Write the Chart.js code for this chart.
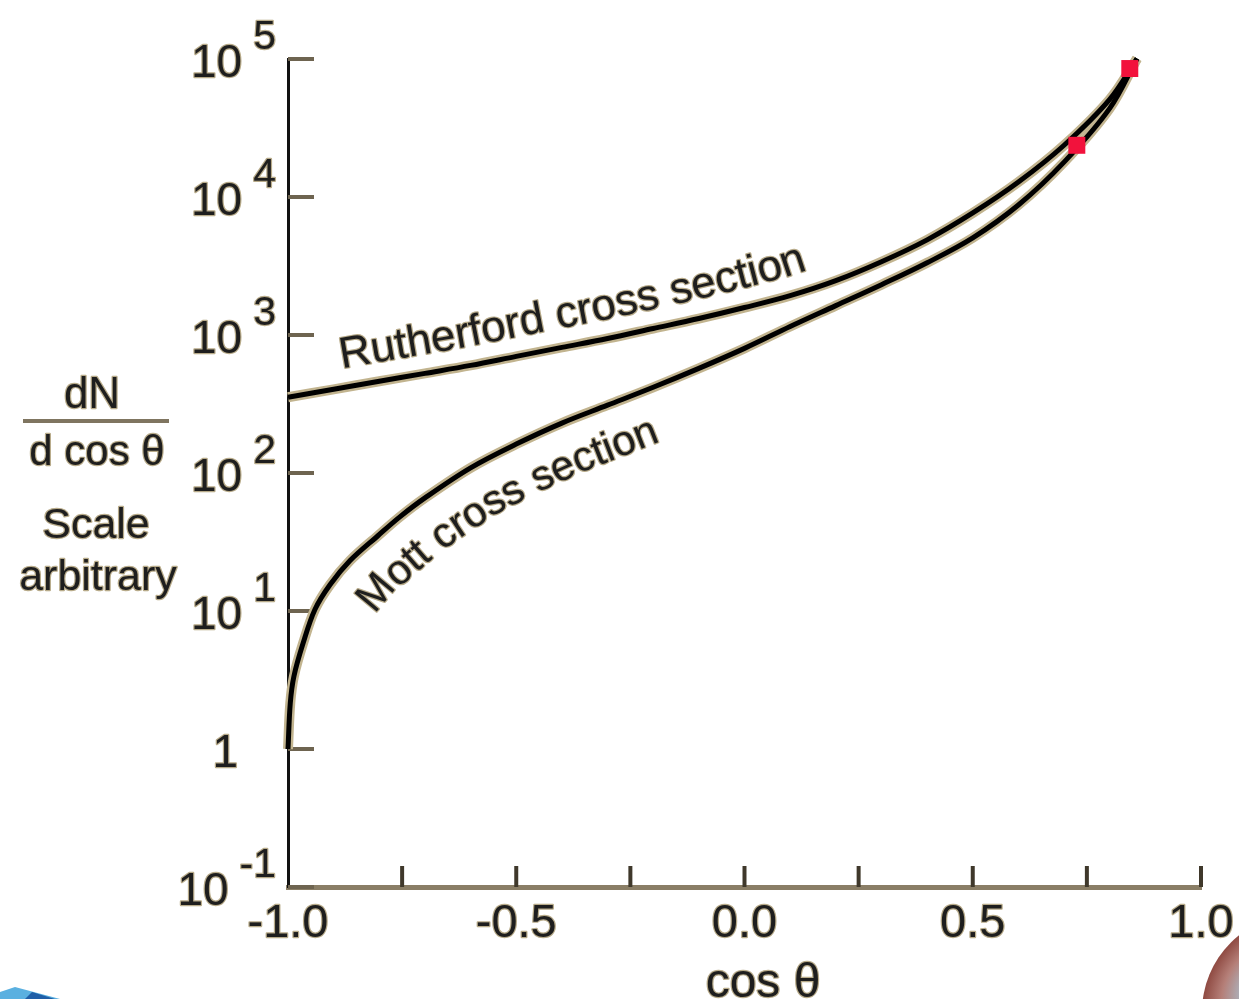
<!DOCTYPE html>
<html>
<head>
<meta charset="utf-8">
<script src="https://cdn.jsdelivr.net/npm/chart.js@4.4.0/dist/chart.umd.min.js"></script>
<style>
  html, body { margin: 0; padding: 0; background: #fff; }
  #chart { display: block; }
</style>
</head>
<body>
<canvas id="chart" width="1239" height="999"></canvas>
<script>
// cos(theta) and dN/dcos(theta), arbitrary scale
const rutherfordCos = [-1.0, -0.9, -0.8, -0.7, -0.6, -0.5, -0.4, -0.3, -0.2, -0.1,
  0.0, 0.1, 0.2, 0.3, 0.4, 0.5, 0.6, 0.7, 0.8, 0.86];
const rutherfordValues = [354, 404, 462, 527, 602, 700, 813, 944, 1114, 1316,
  1581, 1928, 2476, 3395, 4893, 7660, 12830, 23720, 51000, 100800];

const mottCos = [-1.0, -0.995, -0.987, -0.967, -0.941, -0.908, -0.864, -0.803, -0.755, -0.7,
  -0.6, -0.5, -0.4, -0.3, -0.2, -0.1, 0.0, 0.1, 0.2, 0.3, 0.4, 0.5, 0.6, 0.7, 0.8, 0.86];
const mottValues = [1.0, 2.15, 3.37, 5.83, 10.25, 15.5, 23.2, 35.1, 48.1, 66.0,
  109, 162, 230, 310, 418, 573, 800, 1152, 1633, 2315, 3338, 5058, 8750, 17900, 43900, 100800];

// the two red markers near the top
const markerCos = [0.728, 0.844];
const markerValues = [23700, 85300];

// axis ticks
const xTickValues = [-1.0, -0.5, 0.0, 0.5, 1.0];
const xTickLabels = ['-1.0', '-0.5', '0.0', '0.5', '1.0'];
const xTickMarks = [-0.75, -0.5, -0.25, 0.0, 0.25, 0.5, 0.75, 1.0];
const yTickValues = [0.1, 1, 10, 100, 1000, 10000, 100000];
const yTickBases = ['10', '1', '10', '10', '10', '10', '10'];
const yTickExponents = ['-1', '', '1', '2', '3', '4', '5'];

const FONT = '"Liberation Sans", Arial, Helvetica, sans-serif';
const INK = '#1e1e1e';
const HALO = '#b8ab8a';

function toPoints(xs, ys) {
  return xs.map((x, i) => ({ x: x, y: ys[i] }));
}

function inkText(ctx, text, x, y, size, align) {
  ctx.font = size + 'px ' + FONT;
  ctx.textAlign = align || 'left';
  ctx.textBaseline = 'alphabetic';
  ctx.lineJoin = 'round';
  ctx.lineWidth = 2.4;
  ctx.strokeStyle = HALO;
  ctx.strokeText(text, x, y);
  ctx.fillStyle = INK;
  ctx.fillText(text, x, y);
}

// pixel path that follows a curve (log-linear between read points), shifted along its normal
// offset > 0 goes to the left of travel (above), < 0 to the right (below)
function offsetPath(chart, xs, ys, c0, c1, offset) {
  const sx = chart.scales.x, sy = chart.scales.y;
  const raw = [];
  for (let c = c0; c <= c1 + 1e-9; c += 0.002) {
    let i = 0;
    while (i < xs.length - 2 && xs[i + 1] < c) i++;
    const t = (c - xs[i]) / (xs[i + 1] - xs[i]);
    const lv = Math.log10(ys[i]) + t * (Math.log10(ys[i + 1]) - Math.log10(ys[i]));
    raw.push({ x: sx.getPixelForValue(c), y: sy.getPixelForValue(Math.pow(10, lv)) });
  }
  const out = [];
  for (let i = 0; i < raw.length; i++) {
    const a = raw[Math.max(0, i - 5)], b = raw[Math.min(raw.length - 1, i + 5)];
    const dx = b.x - a.x, dy = b.y - a.y, len = Math.hypot(dx, dy) || 1;
    out.push({ x: raw[i].x + offset * dy / len, y: raw[i].y - offset * dx / len });
  }
  return out;
}

function textOnPath(ctx, text, pts, size) {
  const cum = [0];
  for (let i = 1; i < pts.length; i++) {
    cum.push(cum[i - 1] + Math.hypot(pts[i].x - pts[i - 1].x, pts[i].y - pts[i - 1].y));
  }
  function at(s) {
    let i = 1;
    while (i < pts.length - 1 && cum[i] < s) i++;
    const seg = cum[i] - cum[i - 1] || 1;
    const t = Math.min(1, Math.max(0, (s - cum[i - 1]) / seg));
    const p = pts[i - 1], q = pts[i];
    return { x: p.x + t * (q.x - p.x), y: p.y + t * (q.y - p.y), a: Math.atan2(q.y - p.y, q.x - p.x) };
  }
  ctx.font = size + 'px ' + FONT;
  let s = 0;
  for (const ch of text) {
    const w = ctx.measureText(ch).width;
    const p = at(s + w / 2);
    ctx.save();
    ctx.translate(p.x, p.y);
    ctx.rotate(p.a);
    inkText(ctx, ch, -w / 2, 0, size, 'left');
    ctx.restore();
    s += w;
  }
}

const axisDecor = {
  id: 'axisDecor',
  beforeDatasetsDraw(chart) {
    const ctx = chart.ctx, sy = chart.scales.y;
    const area = chart.chartArea;
    ctx.save();
    // y ticks point into the plot
    ctx.strokeStyle = '#6e6450';
    ctx.lineWidth = 4;
    yTickValues.forEach(v => {
      const y = sy.getPixelForValue(v);
      ctx.beginPath();
      ctx.moveTo(area.left, y);
      ctx.lineTo(area.left + 26, y);
      ctx.stroke();
    });
    ctx.restore();
  },
  afterDraw(chart) {
    const ctx = chart.ctx, sx = chart.scales.x, sy = chart.scales.y;
    const area = chart.chartArea;
    ctx.save();

    // x ticks point up
    ctx.strokeStyle = '#3f382b';
    ctx.lineWidth = 4;
    xTickMarks.forEach(v => {
      const x = sx.getPixelForValue(v);
      ctx.beginPath();
      ctx.moveTo(x, area.bottom);
      ctx.lineTo(x, area.bottom - 21);
      ctx.stroke();
    });

    // x tick labels
    xTickValues.forEach((v, i) => {
      inkText(ctx, xTickLabels[i], sx.getPixelForValue(v), area.bottom + 50, 47, 'center');
    });
    inkText(ctx, 'cos \u03b8', 763, 997, 48, 'center');

    // y tick labels: 10 with a large superscript
    yTickValues.forEach((v, i) => {
      const y = sy.getPixelForValue(v) + 18;
      const exp = yTickExponents[i];
      if (!exp) {
        inkText(ctx, yTickBases[i], 238, y, 46, 'right');
        return;
      }
      ctx.font = '46px ' + FONT;
      const wb = ctx.measureText(yTickBases[i]).width;
      ctx.font = '41px ' + FONT;
      const we = ctx.measureText(exp).width;
      const left = 276 - (wb + 11 + we);
      inkText(ctx, yTickBases[i], left, y, 46, 'left');
      inkText(ctx, exp, left + wb + 11, y - 28, 41, 'left');
    });

    // y axis caption
    inkText(ctx, 'dN', 92, 408, 44, 'center');
    ctx.fillStyle = '#7f7560';
    ctx.fillRect(23, 419, 146, 4);
    inkText(ctx, 'd cos \u03b8', 97, 465, 42, 'center');
    inkText(ctx, 'Scale', 96, 538, 43, 'center');
    inkText(ctx, 'arbitrary', 98, 590, 43, 'center');

    // curve labels
    textOnPath(ctx, 'Rutherford cross section',
      offsetPath(chart, rutherfordCos, rutherfordValues, -0.875, 0.4, 19), 44);
    textOnPath(ctx, 'Mott cross section',
      offsetPath(chart, mottCos, mottValues, -0.9, 0.3, -53), 42);

    // corner scraps of the slide
    ctx.fillStyle = '#5ab0e0';
    ctx.beginPath();
    ctx.moveTo(0, 999); ctx.lineTo(0, 992); ctx.lineTo(15, 987); ctx.lineTo(60, 999);
    ctx.closePath(); ctx.fill();
    ctx.fillStyle = '#1f5fa8';
    ctx.beginPath();
    ctx.moveTo(25, 999); ctx.lineTo(32, 992); ctx.lineTo(55, 999);
    ctx.closePath(); ctx.fill();
    const g = ctx.createRadialGradient(1260, 990, 10, 1300, 1012, 98);
    g.addColorStop(0, '#a9c6d6');
    g.addColorStop(0.6, '#b57f78');
    g.addColorStop(1, '#8f4a42');
    ctx.fillStyle = g;
    ctx.beginPath();
    ctx.arc(1300, 1012, 98, 0, Math.PI * 2);
    ctx.fill();
    ctx.restore();
  }
};

const lineBase = {
  showLine: true,
  pointRadius: 0,
  tension: 0.35,
  clip: false,
  fill: false
};

new Chart(document.getElementById('chart'), {
  type: 'scatter',
  data: {
    datasets: [
      Object.assign({ label: 'Rutherford halo', data: toPoints(rutherfordCos, rutherfordValues),
        borderColor: '#c2b48f', borderWidth: 10, order: 3 }, lineBase),
      Object.assign({ label: 'Mott halo', data: toPoints(mottCos, mottValues),
        borderColor: '#c2b48f', borderWidth: 10, order: 3 }, lineBase),
      Object.assign({ label: 'Rutherford cross section', data: toPoints(rutherfordCos, rutherfordValues),
        borderColor: '#000', borderWidth: 5, order: 2 }, lineBase),
      Object.assign({ label: 'Mott cross section', data: toPoints(mottCos, mottValues),
        borderColor: '#000', borderWidth: 5, order: 2 }, lineBase),
      {
        label: 'markers',
        data: toPoints(markerCos, markerValues),
        showLine: false,
        pointStyle: 'rect',
        pointRadius: 12,
        backgroundColor: '#f2123c',
        borderColor: '#f2123c',
        borderWidth: 0,
        clip: false,
        order: 1
      }
    ]
  },
  options: {
    responsive: false,
    animation: false,
    events: [],
    layout: { padding: { left: 288, top: 59, right: 38, bottom: 112 } },
    plugins: { legend: { display: false }, tooltip: { enabled: false } },
    scales: {
      x: {
        type: 'linear', min: -1, max: 1,
        ticks: { display: false },
        grid: { display: false, drawTicks: false },
        border: { display: true, color: '#8a7e66', width: 5 }
      },
      y: {
        type: 'logarithmic', min: 0.1, max: 100000,
        ticks: { display: false },
        grid: { display: false, drawTicks: false },
        border: { display: true, color: '#111', width: 3 }
      }
    }
  },
  plugins: [axisDecor]
});
</script>
</body>
</html>
